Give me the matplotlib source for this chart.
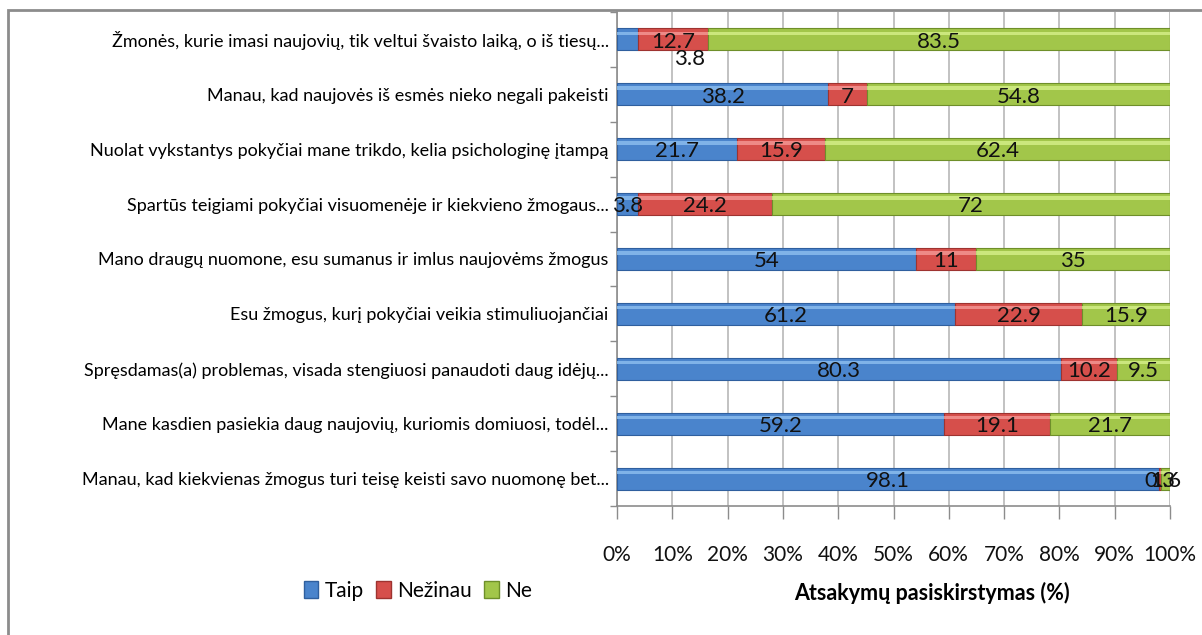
import matplotlib
matplotlib.use("Agg")
import matplotlib.pyplot as plt
from matplotlib.patches import Rectangle, Patch
import numpy as np

categories = [
    "Žmonės, kurie imasi naujovių, tik veltui švaisto laiką, o iš tiesų...",
    "Manau, kad naujovės iš esmės nieko negali pakeisti",
    "Nuolat vykstantys pokyčiai mane trikdo, kelia psichologinę įtampą",
    "Spartūs teigiami pokyčiai visuomenėje ir kiekvieno žmogaus...",
    "Mano draugų nuomone, esu sumanus ir imlus naujovėms žmogus",
    "Esu žmogus, kurį pokyčiai veikia stimuliuojančiai",
    "Spręsdamas(a) problemas, visada stengiuosi panaudoti daug idėjų...",
    "Mane kasdien pasiekia daug naujovių, kuriomis domiuosi, todėl...",
    "Manau, kad kiekvienas žmogus turi teisę keisti savo nuomonę bet...",
]
taip = [3.8, 38.2, 21.7, 3.8, 54, 61.2, 80.3, 59.2, 98.1]
nezinau = [12.7, 7, 15.9, 24.2, 11, 22.9, 10.2, 19.1, 0.3]
ne = [83.5, 54.8, 62.4, 72, 35, 15.9, 9.5, 21.7, 1.6]
series_names = ["Taip", "Nežinau", "Ne"]
tick_labels = ["0%", "10%", "20%", "30%", "40%", "50%", "60%", "70%", "80%", "90%", "100%"]
xlabel = "Atsakymų pasiskirstymas (%)"

FONT = ["Lato", "DejaVu Sans"]
plt.rcParams["font.family"] = FONT

colors = ["#4A84CC", "#D64F4B", "#A2C64A"]
dark = ["#2F5F9E", "#9E3330", "#6E8F2A"]
light = ["#8EC0F0", "#F59A97", "#D6F08A"]

W, H = 1202, 635
fig = plt.figure(figsize=(W / 100, H / 100), dpi=100)
fig.patch.set_facecolor("white")

# outer chart border (left and top visible)
fig.add_artist(Rectangle((8 / W, -0.1), 1.2, (H - 10) / H + 0.1, transform=fig.transFigure,
                         fill=False, edgecolor="#8c8c8c", linewidth=2.0))

left, right = 617 / W, 1170 / W
top, bottom = 1 - 12 / H, 1 - 506 / H
ax = fig.add_axes([left, bottom, right - left, top - bottom])

n = len(categories)
y = np.arange(n)
h = 0.40
series = [np.array(taip, float), np.array(nezinau, float), np.array(ne, float)]
lefts = np.zeros(n)
for i, vals in enumerate(series):
    ax.barh(y, vals, left=lefts, height=h, color=colors[i], edgecolor=dark[i], linewidth=0.8, zorder=3)
    # highlight stripe to imitate bevel
    ax.barh(y - h * 0.28, vals, left=lefts, height=h * 0.16, color=light[i], linewidth=0, alpha=0.8, zorder=4)
    for j in range(n):
        cx = lefts[j] + vals[j] / 2
        cy = y[j]
        txt = f"{vals[j]:g}"
        if i == 0 and j == 0:
            # Excel displaced this label below the bar
            ax.annotate(txt, (cx, cy), xytext=(45, -14), textcoords="offset points",
                        ha="center", va="center", fontsize=16, color="#111111", zorder=6)
            continue
        ax.text(cx, cy + 0.04, txt, ha="center", va="center", fontsize=16, color="#111111", zorder=6)
    lefts = lefts + vals

ax.set_xlim(0, 100)
ax.set_ylim(n - 0.5, -0.5)
ax.set_xticks(np.arange(0, 101, 10))
ax.set_xticklabels(tick_labels, fontsize=15, color="#111111")
ax.tick_params(axis="x", direction="out", length=9, width=1, color="#8c8c8c", pad=19)
ax.set_yticks(y)
ax.set_yticklabels(categories, fontsize=13, color="#000000")
ax.tick_params(axis="y", which="major", length=0, pad=6)
ax.set_yticks(np.arange(-0.5, n, 1), minor=True)
ax.tick_params(axis="y", which="minor", direction="out", length=5, width=1, color="#8c8c8c")

ax.grid(axis="x", color="#b8b8b8", linewidth=1.2, zorder=0)
ax.set_axisbelow(True)
for s in ["top", "right"]:
    ax.spines[s].set_visible(False)
ax.spines["left"].set_color("#8c8c8c")
ax.spines["bottom"].set_color("#8c8c8c")
ax.spines["left"].set_linewidth(1.2)
ax.spines["bottom"].set_linewidth(1.2)

fig.text(932 / W, 1 - 593 / H, xlabel, ha="center", va="center", fontsize=15.5,
         fontweight="bold", color="#000000")

handles = [Patch(facecolor=colors[i], edgecolor=dark[i]) for i in range(3)]
fig.legend(handles, series_names, loc="center", bbox_to_anchor=(418 / W, 1 - 591 / H),
           ncol=3, frameon=False, fontsize=15, handlelength=0.7, handleheight=0.9,
           handletextpad=0.3, columnspacing=0.6)

fig.savefig("out.png", dpi=100)
